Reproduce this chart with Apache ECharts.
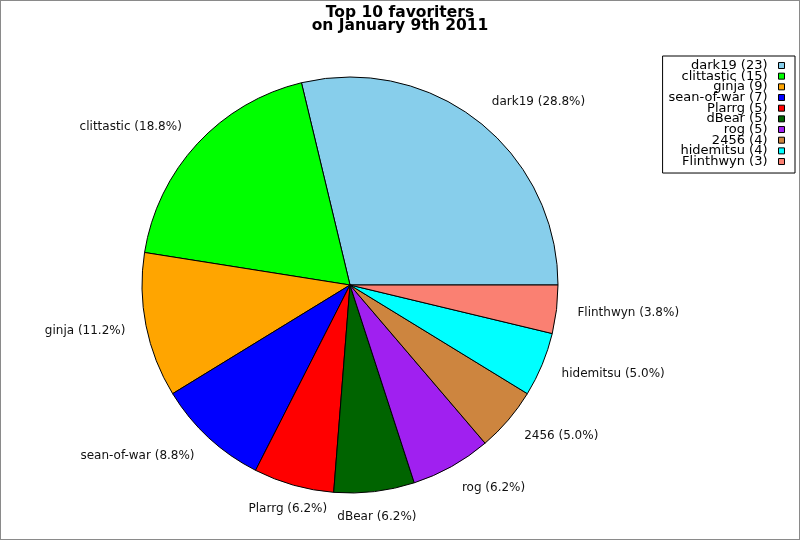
<!DOCTYPE html>
<html>
<head>
<meta charset="utf-8">
<script src="https://cdn.jsdelivr.net/npm/echarts@6/dist/echarts.min.js"></script>
<style>
  html, body { margin: 0; padding: 0; background: #fff; }
  #wrap { position: relative; width: 800px; height: 540px; }
  #main { position: absolute; left: 0; top: 0; width: 800px; height: 540px; }
  #frame { position: absolute; left: 0; top: 0; width: 800px; height: 540px; box-sizing: border-box; border: 1px solid #8a8a8a; pointer-events: none; }
</style>
</head>
<body>
<div id="wrap"><div id="main"></div><div id="frame"></div></div>
<script>
const titleLines = ['Top 10 favoriters', 'on January 9th 2011'];
const names = ['dark19', 'clittastic', 'ginja', 'sean-of-war', 'Plarrg', 'dBear', 'rog', '2456', 'hidemitsu', 'Flinthwyn'];
const counts = [23, 15, 9, 7, 5, 5, 5, 4, 4, 3];
const colors = ['#87CEEB', '#00FF00', '#FFA500', '#0000FF', '#FF0000', '#006400', '#A020F0', '#CD853F', '#00FFFF', '#FA8072'];

const total = counts.reduce((a, b) => a + b, 0);
function pct(v) {
  // one decimal, round half to even
  const x = v * 1000 / total;
  let n = Math.floor(x);
  const f = x - n;
  if (f > 0.5 + 1e-9 || (Math.abs(f - 0.5) < 1e-9 && n % 2 === 1)) n++;
  return (n / 10).toFixed(1);
}
const countByName = {};
names.forEach((n, i) => { countByName[n] = counts[i]; });

// mid angles (counter-clockwise from 3 o'clock) for label alignment
const midAngles = [];
{ let acc = 0; counts.forEach(v => { const a = v / total * 360; midAngles.push(acc + a / 2); acc += a; }); }

const chart = echarts.init(document.getElementById('main'), null, { renderer: 'canvas' });
const FONT = 'DejaVu Sans';
chart.setOption({
  animation: false,
  backgroundColor: '#fff',
  title: {
    text: titleLines.join('\n'),
    left: 'center',
    top: 6,
    padding: 0,
    textStyle: { fontFamily: FONT, fontSize: 15.5, fontWeight: 'bold', color: '#000', lineHeight: 13 }
  },
  legend: {
    orient: 'vertical',
    right: 5,
    top: 56,
    align: 'right',
    icon: 'rect',
    itemWidth: 6,
    itemHeight: 6,
    itemGap: -2.33,
    padding: [3, 10, 5, 6],
    borderColor: '#000',
    borderWidth: 1,
    backgroundColor: '#fff',
    itemStyle: { borderColor: '#000', borderWidth: 1 },
    formatter: n => n + ' (' + countByName[n] + ')',
    textStyle: { fontFamily: FONT, fontSize: 13, color: '#000', lineHeight: 10, padding: [0, 6, 0, 0] },
    data: names
  },
  series: [{
    type: 'pie',
    center: [350, 285],
    radius: 208,
    startAngle: 0,
    clockwise: false,
    avoidLabelOverlap: false,
    silent: true,
    itemStyle: { borderColor: '#000', borderWidth: 1 },
    label: {
      show: true,
      position: 'outside',
      fontFamily: FONT,
      fontSize: 12,
      color: '#111',
      distanceToLabelLine: 0,
      formatter: p => p.name + ' (' + pct(p.value) + '%)'
    },
    labelLine: { show: false, length: 21, length2: 0 },
    labelLayout: function (p) {
      const a = midAngles[p.dataIndex] * Math.PI / 180;
      const c = Math.cos(a), s = Math.sin(a);
      const r = p.labelRect;
      const ax = p.align === 'right' ? r.x + r.width : r.x;
      return {
        x: ax,
        y: r.y + r.height / 2 - s * 4,
        align: Math.abs(c) < 0.3 ? 'center' : p.align,
        verticalAlign: 'middle'
      };
    },
    emphasis: { disabled: true },
    data: names.map((n, i) => ({ name: n, value: counts[i], itemStyle: { color: colors[i] } }))
  }]
});
</script>
</body>
</html>
